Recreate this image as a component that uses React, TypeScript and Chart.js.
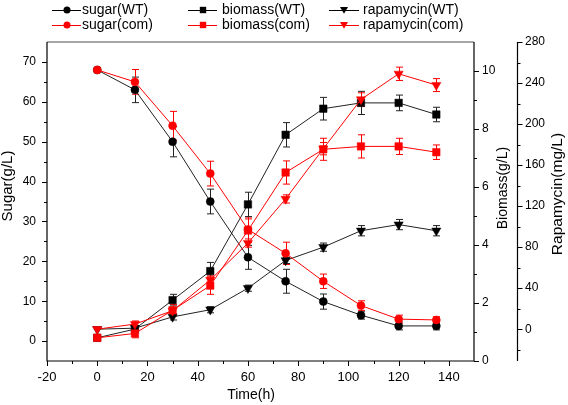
import React, { useEffect, useRef } from 'react';
import { Chart, registerables } from 'chart.js';

Chart.register(...registerables);

const time = [0, 15, 30, 45, 60, 75, 90, 105, 120, 135];

const sugarWT = [68, 63, 50, 35, 21, 15, 9.9, 6.5, 3.8, 3.8];
const sugarWTErr = [0, 3.2, 3.8, 3.1, 3.0, 3.0, 1.9, 1.0, 1.0, 1.0];
const sugarCom = [68, 65, 54, 42, 28, 22, 15, 8.9, 5.5, 5.3];
const sugarComErr = [0, 3.1, 3.6, 3.1, 3.1, 2.8, 1.8, 1.2, 1.0, 0.8];

const biomassWT = [0.8, 1.1, 2.1, 3.1, 5.4, 7.8, 8.7, 8.9, 8.9, 8.5];
const biomassWTErr = [0, 0.1, 0.2, 0.3, 0.42, 0.42, 0.39, 0.4, 0.27, 0.25];
const biomassCom = [0.8, 0.95, 1.75, 2.6, 4.5, 6.5, 7.3, 7.4, 7.4, 7.2];
const biomassComErr = [0, 0.15, 0.2, 0.3, 0.4, 0.4, 0.38, 0.4, 0.28, 0.25];

const rapaWT = [0, 1, 12, 19, 40, 67, 80, 96, 102, 96];
const rapaWTErr = [0, 2, 3, 3, 3, 3, 4, 5, 5, 5];
const rapaCom = [0, 5, 18, 48, 84, 127, 176, 224, 249, 238];
const rapaComErr = [0, 3, 3, 4, 4, 4, 6, 6.5, 6.5, 6.3];

const xMajor = [-20, 0, 20, 40, 60, 80, 100, 120, 140];
const xMinor = [-10, 10, 30, 50, 70, 90, 110, 130];
const sugarMajor = [0, 10, 20, 30, 40, 50, 60, 70];
const sugarMinor = [5, 15, 25, 35, 45, 55, 65];
const bioMajor = [0, 2, 4, 6, 8, 10];
const bioMinor = [1, 3, 5, 7, 9];
const rapaMajor = [0, 40, 80, 120, 160, 200, 240, 280];
const rapaMinor = [-20, 20, 60, 100, 140, 180, 220, 260];

const titleSugar = 'Sugar(g/L)';
const titleBio = 'Biomass(g/L)';
const titleRapa = 'Rapamycin(mg/L)';
const titleTime = 'Time(h)';

const FONT = 'Arial, "Liberation Sans", sans-serif';
const BLACK = '#000000';
const RED = '#ff0000';

type Series = {
  label: string;
  values: number[];
  err: number[];
  axis: string;
  color: string;
  shape: string;
  radius: number;
  rot: number;
};

const series: Series[] = [
  { label: 'sugar(WT)', values: sugarWT, err: sugarWTErr, axis: 'y', color: BLACK, shape: 'circle', radius: 4, rot: 0 },
  { label: 'sugar(com)', values: sugarCom, err: sugarComErr, axis: 'y', color: RED, shape: 'circle', radius: 4, rot: 0 },
  { label: 'biomass(WT)', values: biomassWT, err: biomassWTErr, axis: 'yBio', color: BLACK, shape: 'rect', radius: 5.3, rot: 0 },
  { label: 'biomass(com)', values: biomassCom, err: biomassComErr, axis: 'yBio', color: RED, shape: 'rect', radius: 5.3, rot: 0 },
  { label: 'rapamycin(WT)', values: rapaWT, err: rapaWTErr, axis: 'yRapa', color: BLACK, shape: 'triangle', radius: 5.3, rot: 180 },
  { label: 'rapamycin(com)', values: rapaCom, err: rapaComErr, axis: 'yRapa', color: RED, shape: 'triangle', radius: 5.3, rot: 180 },
];

const legendCols = [
  { x0: 52, xm: 67, x1: 81, xt: 82 },
  { x0: 188, xm: 203, x1: 217, xt: 222 },
  { x0: 329, xm: 344, x1: 359, xt: 363 },
];
const legendRows = [10, 25];

function drawMarker(ctx: CanvasRenderingContext2D, shape: string, x: number, y: number, r: number, color: string) {
  ctx.save();
  ctx.fillStyle = color;
  ctx.beginPath();
  if (shape === 'circle') {
    ctx.arc(x, y, r, 0, Math.PI * 2);
  } else if (shape === 'rect') {
    ctx.rect(x - r, y - r, r * 2, r * 2);
  } else {
    ctx.moveTo(x - r, y - r * 0.75);
    ctx.lineTo(x + r, y - r * 0.75);
    ctx.lineTo(x, y + r * 0.95);
    ctx.closePath();
  }
  ctx.fill();
  ctx.restore();
}

const extrasPlugin = {
  id: 'extras',
  beforeDatasetsDraw(chart: any) {
    const ctx: CanvasRenderingContext2D = chart.ctx;
    const xs = chart.scales.x;
    ctx.save();
    ctx.lineWidth = 1;
    series.forEach((s) => {
      const ys = chart.scales[s.axis];
      ctx.strokeStyle = s.color === BLACK ? '#222' : RED;
      s.values.forEach((v, i) => {
        const e = s.err[i];
        if (!e) return;
        const px = Math.round(xs.getPixelForValue(time[i])) + 0.5;
        const yt = ys.getPixelForValue(v + e);
        const yb = ys.getPixelForValue(v - e);
        ctx.beginPath();
        ctx.moveTo(px, yt);
        ctx.lineTo(px, yb);
        ctx.moveTo(px - 3.5, yt);
        ctx.lineTo(px + 3.5, yt);
        ctx.moveTo(px - 3.5, yb);
        ctx.lineTo(px + 3.5, yb);
        ctx.stroke();
      });
    });
    ctx.restore();
  },
  afterDraw(chart: any) {
    const ctx: CanvasRenderingContext2D = chart.ctx;
    const { left, right, top, bottom } = chart.chartArea;
    const xs = chart.scales.x;
    const yS = chart.scales.y;
    const yB = chart.scales.yBio;
    const yR = chart.scales.yRapa;
    ctx.save();
    ctx.strokeStyle = '#888';
    ctx.lineWidth = 1.5;
    ctx.beginPath();
    ctx.moveTo(left, top);
    ctx.lineTo(right, top);
    ctx.stroke();
    ctx.strokeStyle = BLACK;
    ctx.lineWidth = 1.2;
    ctx.beginPath();
    ctx.moveTo(left, top);
    ctx.lineTo(left, bottom);
    ctx.lineTo(right, bottom);
    ctx.moveTo(right, top);
    ctx.lineTo(right, bottom);
    const rx = yR.left + 0.5;
    ctx.moveTo(rx, top);
    ctx.lineTo(rx, bottom);
    ctx.stroke();
    ctx.lineWidth = 1;
    ctx.beginPath();
    const tick = (arr: number[], len: number, f: (v: number, l: number) => void) => arr.forEach((v) => f(v, len));
    const xt = (v: number, l: number) => {
      const p = Math.round(xs.getPixelForValue(v)) + 0.5;
      ctx.moveTo(p, bottom);
      ctx.lineTo(p, bottom + l);
    };
    tick(xMajor, 5, xt);
    tick(xMinor, 3, xt);
    const lt = (v: number, l: number) => {
      const p = Math.round(yS.getPixelForValue(v)) + 0.5;
      ctx.moveTo(left, p);
      ctx.lineTo(left - l, p);
    };
    tick(sugarMajor, 5, lt);
    tick(sugarMinor, 3, lt);
    const bt = (v: number, l: number) => {
      const p = Math.round(yB.getPixelForValue(v)) + 0.5;
      ctx.moveTo(right, p);
      ctx.lineTo(right + l, p);
    };
    tick(bioMajor, 5, bt);
    tick(bioMinor, 3, bt);
    const rt = (v: number, l: number) => {
      const p = Math.round(yR.getPixelForValue(v)) + 0.5;
      ctx.moveTo(rx, p);
      ctx.lineTo(rx + l, p);
    };
    tick(rapaMajor, 5, rt);
    tick(rapaMinor, 3, rt);
    ctx.stroke();

    ctx.fillStyle = BLACK;
    ctx.textAlign = 'center';
    ctx.textBaseline = 'middle';
    const vtext = (t: string, x: number, y: number, size: number) => {
      ctx.save();
      ctx.translate(x, y);
      ctx.rotate(-Math.PI / 2);
      ctx.font = `${size}px ${FONT}`;
      ctx.fillText(t, 0, 0);
      ctx.restore();
    };
    vtext(titleSugar, 8, 186, 15);
    vtext(titleBio, 503, 188, 14);
    vtext(titleRapa, 558, 194, 15.5);
    ctx.font = `14px ${FONT}`;
    ctx.fillText(titleTime, 251, 395);

    series.forEach((s, i) => {
      const col = legendCols[Math.floor(i / 2)];
      const y = legendRows[i % 2];
      ctx.strokeStyle = s.color;
      ctx.lineWidth = 1;
      ctx.beginPath();
      ctx.moveTo(col.x0, y + 0.5);
      ctx.lineTo(col.x1, y + 0.5);
      ctx.stroke();
      const r = s.shape === 'circle' ? 3.5 : s.shape === 'rect' ? 3.2 : 4;
      drawMarker(ctx, s.shape, col.xm, y, r, s.color);
      ctx.fillStyle = BLACK;
      ctx.textAlign = 'left';
      ctx.textBaseline = 'middle';
      ctx.font = `14px ${FONT}`;
      ctx.fillText(s.label, col.xt, y);
    });
    ctx.restore();
  },
};

export default function App() {
  const ref = useRef<HTMLCanvasElement>(null);
  useEffect(() => {
    if (!ref.current) return;
    const order = [1, 0, 1, 0, 1, 0];
    const datasets = series.map((s, i) => ({
      label: s.label,
      data: time.map((t, k) => ({ x: t, y: s.values[k] })),
      yAxisID: s.axis,
      borderColor: s.color === BLACK ? '#222' : RED,
      backgroundColor: s.color,
      borderWidth: 1,
      pointStyle: s.shape,
      pointRadius: s.radius,
      pointRotation: s.rot,
      pointBackgroundColor: s.color,
      pointBorderColor: s.color,
      pointBorderWidth: 0.5,
      tension: 0,
      fill: false,
      order: order[i],
      clip: false,
    }));
    const tickFont = { family: FONT, size: 12 };
    const labelFrom = (v: any) => String(v);
    const noGrid = { display: false, drawTicks: false };
    const chart = new Chart(ref.current, {
      type: 'line',
      data: { datasets },
      options: {
        responsive: false,
        animation: false,
        devicePixelRatio: 1,
        layout: { padding: { top: 42, left: 0, right: 0, bottom: 0 } },
        plugins: { legend: { display: false }, tooltip: { enabled: false } },
        scales: {
          x: {
            type: 'linear',
            position: 'bottom',
            min: -20,
            max: 150,
            grid: noGrid,
            border: { display: false },
            ticks: { font: { family: FONT, size: 13 }, color: BLACK, padding: 9, callback: labelFrom, maxRotation: 0 },
            afterBuildTicks: (s: any) => { s.ticks = xMajor.map((v) => ({ value: v })); },
            afterFit: (s: any) => { s.height = 44; },
          },
          y: {
            type: 'linear',
            position: 'left',
            min: -5,
            max: 75,
            grid: noGrid,
            border: { display: false },
            ticks: { font: tickFont, color: BLACK, padding: 11, callback: labelFrom },
            afterBuildTicks: (s: any) => { s.ticks = sugarMajor.map((v) => ({ value: v })); },
            afterFit: (s: any) => { s.width = 47; },
          },
          yBio: {
            type: 'linear',
            position: 'right',
            weight: 0,
            min: 0,
            max: 11,
            grid: noGrid,
            border: { display: false },
            ticks: { font: tickFont, color: BLACK, padding: 8, callback: labelFrom },
            afterBuildTicks: (s: any) => { s.ticks = bioMajor.map((v) => ({ value: v })); },
            afterFit: (s: any) => { s.width = 43; },
          },
          yRapa: {
            type: 'linear',
            position: 'right',
            weight: 1,
            min: -31,
            max: 280,
            grid: noGrid,
            border: { display: false },
            ticks: { font: tickFont, color: BLACK, padding: 8, callback: labelFrom },
            afterBuildTicks: (s: any) => { s.ticks = rapaMajor.map((v) => ({ value: v })); },
            afterFit: (s: any) => { s.width = 51; },
          },
        },
      } as any,
      plugins: [extrasPlugin],
    });
    return () => chart.destroy();
  }, []);
  return (
    <div style={{ position: 'fixed', left: 0, top: 0, width: 568, height: 405, background: '#fff' }}>
      <canvas ref={ref} width={568} height={405} style={{ display: 'block', width: 568, height: 405 }} />
    </div>
  );
}
